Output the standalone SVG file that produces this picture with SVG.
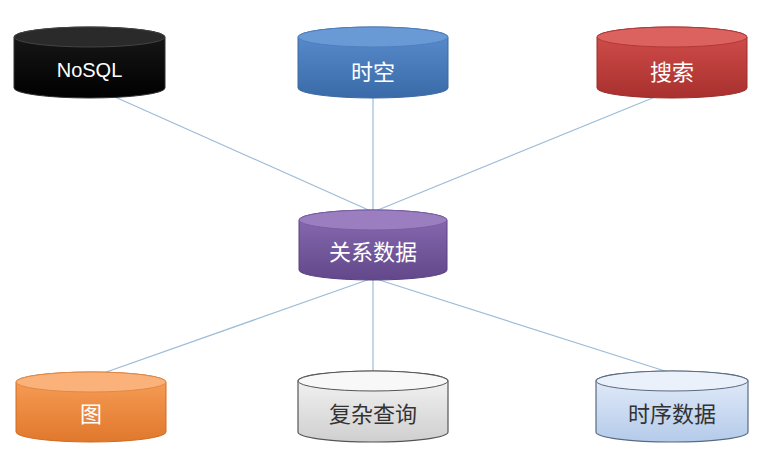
<svg xmlns="http://www.w3.org/2000/svg" width="762" height="464" viewBox="0 0 762 464">
<defs>
<linearGradient id="gBlack" x1="0" y1="0" x2="0" y2="1"><stop offset="0" stop-color="#1a1a1a"/><stop offset="1" stop-color="#000"/></linearGradient>
<linearGradient id="gBlue" x1="0" y1="0" x2="0" y2="1"><stop offset="0" stop-color="#5b8fd0"/><stop offset="1" stop-color="#3a6aa8"/></linearGradient>
<linearGradient id="gRed" x1="0" y1="0" x2="0" y2="1"><stop offset="0" stop-color="#d4504d"/><stop offset="1" stop-color="#a8302e"/></linearGradient>
<linearGradient id="gPurple" x1="0" y1="0" x2="0" y2="1"><stop offset="0" stop-color="#8a6cb3"/><stop offset="1" stop-color="#62488a"/></linearGradient>
<linearGradient id="gOrange" x1="0" y1="0" x2="0" y2="1"><stop offset="0" stop-color="#f9a05a"/><stop offset="1" stop-color="#e0782c"/></linearGradient>
<linearGradient id="gGray" x1="0" y1="0" x2="0" y2="1"><stop offset="0" stop-color="#f6f6f6"/><stop offset="1" stop-color="#cfcfcf"/></linearGradient>
<linearGradient id="gLBlue" x1="0" y1="0" x2="0" y2="1"><stop offset="0" stop-color="#e6eefa"/><stop offset="1" stop-color="#b4cbea"/></linearGradient>
</defs>
<style>
.lbl{font-family:"Noto Sans CJK SC","Liberation Sans",sans-serif;font-size:22px;text-anchor:middle;dominant-baseline:central}
.w{fill:#ffffff}
.d{fill:#333333}
.conn line{stroke:#9dbcd8;stroke-width:1.2}
.top{stroke-width:1}
</style>
<rect width="762" height="464" fill="#ffffff"/>
<g class="conn" id="connectors">
<line x1="115" y1="97" x2="373" y2="212"/>
<line x1="373" y1="97" x2="373" y2="212"/>
<line x1="655" y1="97" x2="373" y2="212"/>
<line x1="373" y1="278" x2="95" y2="376"/>
<line x1="373" y1="278" x2="373" y2="372"/>
<line x1="373" y1="278" x2="668" y2="372"/>
</g>
<g id="nosql">
<path d="M14,37 A75.5,10 0 0 1 165,37 V88 A75.5,10 0 0 1 14,88 Z" fill="url(#gBlack)" stroke="#333" stroke-width="1"/>
<ellipse cx="89.5" cy="37" rx="75.5" ry="10" fill="#2a2a2a" stroke="#444" class="top"/>
<text x="89.5" y="70" class="lbl w" style="font-family:'Liberation Sans',sans-serif;font-size:20px">NoSQL</text>
</g>
<g id="shikong">
<path d="M298,37 A75,10 0 0 1 448,37 V88 A75,10 0 0 1 298,88 Z" fill="url(#gBlue)" stroke="#3d6aa0" stroke-width="1"/>
<ellipse cx="373" cy="37" rx="75" ry="10" fill="#6a9ad6" stroke="#4f7fbf" class="top"/>
<text x="373" y="70" class="lbl w">时空</text>
</g>
<g id="sousuo">
<path d="M597,37 A75,10 0 0 1 747,37 V88 A75,10 0 0 1 597,88 Z" fill="url(#gRed)" stroke="#9a2e2c" stroke-width="1"/>
<ellipse cx="672" cy="37" rx="75" ry="10" fill="#dc625f" stroke="#b03a38" class="top"/>
<text x="672" y="70" class="lbl w">搜索</text>
</g>
<g id="guanxi">
<path d="M299,220 A74,10 0 0 1 447,220 V270 A74,10 0 0 1 299,270 Z" fill="url(#gPurple)" stroke="#5a4280" stroke-width="1"/>
<ellipse cx="373" cy="220" rx="74" ry="10" fill="#9a7ec0" stroke="#7a5ea6" class="top"/>
<text x="373" y="250" class="lbl w">关系数据</text>
</g>
<g id="tu">
<path d="M16,382 A75,10 0 0 1 166,382 V432 A75,10 0 0 1 16,432 Z" fill="url(#gOrange)" stroke="#d06c22" stroke-width="1"/>
<ellipse cx="91" cy="382" rx="75" ry="10" fill="#fbb27a" stroke="#e08a46" class="top"/>
<text x="91" y="412" class="lbl w">图</text>
</g>
<g id="fuza">
<path d="M298,381 A75,10 0 0 1 448,381 V432 A75,10 0 0 1 298,432 Z" fill="url(#gGray)" stroke="#555" stroke-width="1.2"/>
<ellipse cx="373" cy="381" rx="75" ry="10" fill="#f8f8f8" stroke="#555" class="top"/>
<text x="373" y="412" class="lbl d">复杂查询</text>
</g>
<g id="shixu">
<path d="M596,381 A76,10 0 0 1 748,381 V432 A76,10 0 0 1 596,432 Z" fill="url(#gLBlue)" stroke="#5a6a80" stroke-width="1.2"/>
<ellipse cx="672" cy="381" rx="76" ry="10" fill="#eaf1fb" stroke="#5a6a80" class="top"/>
<text x="672" y="412" class="lbl d">时序数据</text>
</g>
</svg>
